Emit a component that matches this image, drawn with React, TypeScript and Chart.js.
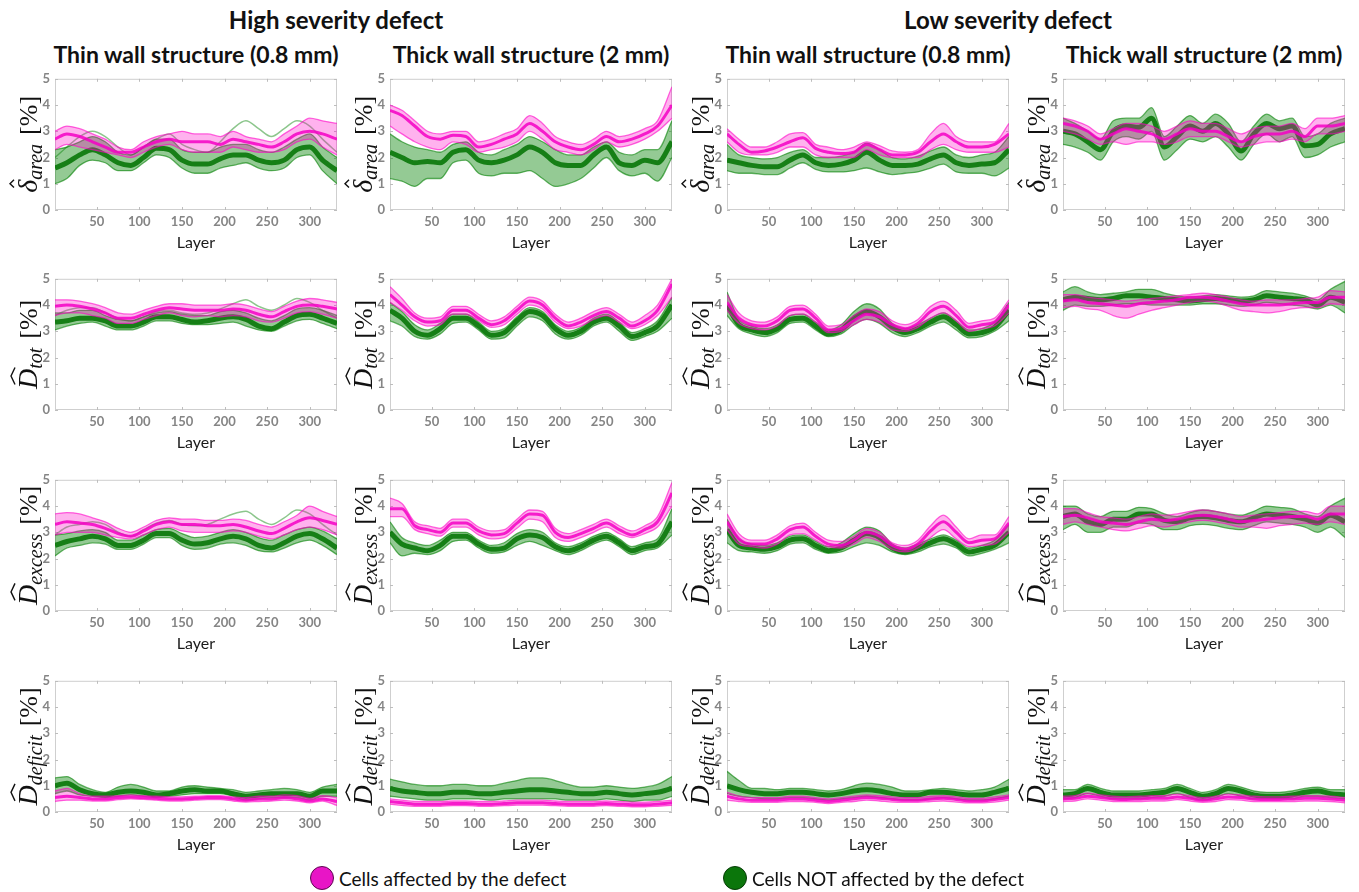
import React, { useEffect, useRef } from "react";
import { Chart, registerables } from "chart.js";
Chart.register(...registerables);

// ---------- shared axes ----------
const LAYERS = [1, 15, 30, 45, 60, 75, 90, 105, 120, 135, 150, 165, 180, 195, 210, 225, 240, 255, 270, 285, 300, 315, 332];
const X_TICKS = [50, 100, 150, 200, 250, 300];
const Y_TICKS = [0, 1, 2, 3, 4, 5];

// ---------- Row 1: delta_area ----------
// High severity, thin wall
const r1c1PinkHi = [3.0, 3.2, 3.1, 2.9, 2.7, 2.4, 2.3, 2.6, 2.8, 2.9, 3.0, 2.9, 2.9, 2.8, 3.0, 2.8, 2.7, 2.6, 2.9, 3.2, 3.5, 3.4, 3.3];
const r1c1PinkMid = [2.7, 2.9, 2.8, 2.6, 2.4, 2.2, 2.2, 2.4, 2.6, 2.7, 2.6, 2.6, 2.6, 2.5, 2.7, 2.6, 2.5, 2.4, 2.6, 2.9, 3.0, 2.9, 2.7];
const r1c1PinkLo = [2.3, 2.5, 2.4, 2.3, 2.2, 2.1, 2.0, 2.2, 2.4, 2.5, 2.3, 2.2, 2.2, 2.2, 2.4, 2.3, 2.2, 2.2, 2.3, 2.6, 2.7, 2.4, 2.1];
const r1c1GreenHi = [2.3, 2.4, 2.6, 2.8, 2.6, 2.2, 2.1, 2.4, 2.7, 2.7, 2.3, 2.2, 2.2, 2.4, 2.5, 2.5, 2.3, 2.2, 2.4, 2.7, 2.9, 2.4, 2.0];
const r1c1GreenMid = [1.6, 1.8, 2.1, 2.3, 2.1, 1.8, 1.7, 2.0, 2.35, 2.3, 1.9, 1.75, 1.75, 1.95, 2.1, 2.1, 1.9, 1.8, 1.9, 2.3, 2.4, 1.9, 1.5];
const r1c1GreenLo = [1.0, 1.2, 1.7, 1.9, 1.8, 1.5, 1.5, 1.8, 2.1, 2.0, 1.6, 1.4, 1.4, 1.6, 1.7, 1.8, 1.6, 1.5, 1.6, 2.0, 2.1, 1.5, 1.0];
const r1c1GreenOut = [2.0, 2.4, 2.8, 3.0, 2.8, 2.4, 2.1, 2.4, 2.7, 2.9, 2.5, 2.3, 2.2, 2.6, 3.1, 3.4, 3.1, 2.8, 3.1, 3.4, 3.2, 2.7, 2.2];
// High severity, thick wall
const r1c2PinkHi = [4.0, 3.8, 3.4, 3.0, 2.9, 3.0, 3.0, 2.6, 2.7, 2.9, 3.1, 3.6, 3.3, 2.8, 2.6, 2.5, 2.7, 3.0, 2.8, 2.9, 3.1, 3.4, 4.7];
const r1c2PinkMid = [3.8, 3.6, 3.2, 2.8, 2.7, 2.85, 2.8, 2.4, 2.5, 2.7, 2.9, 3.3, 3.0, 2.6, 2.4, 2.3, 2.5, 2.8, 2.6, 2.7, 2.9, 3.2, 4.0];
const r1c2PinkLo = [3.2, 2.9, 2.6, 2.4, 2.3, 2.6, 2.5, 2.2, 2.3, 2.4, 2.6, 3.0, 2.7, 2.3, 2.2, 2.1, 2.3, 2.6, 2.4, 2.5, 2.7, 3.0, 3.5];
const r1c2GreenHi = [2.9, 2.6, 2.4, 2.3, 2.2, 2.5, 2.6, 2.2, 2.1, 2.3, 2.5, 2.8, 2.6, 2.3, 2.1, 2.1, 2.4, 2.6, 2.2, 2.1, 2.3, 2.3, 3.4];
const r1c2GreenMid = [2.2, 2.0, 1.8, 1.85, 1.8, 2.2, 2.3, 1.9, 1.8, 1.9, 2.1, 2.4, 2.2, 1.8, 1.7, 1.7, 2.1, 2.4, 1.8, 1.7, 1.9, 1.8, 2.6];
const r1c2GreenLo = [1.2, 1.1, 0.9, 1.2, 1.2, 1.8, 1.9, 1.4, 1.3, 1.4, 1.4, 1.5, 1.2, 0.9, 1.0, 1.2, 1.6, 2.0, 1.5, 1.3, 1.4, 1.1, 2.0];
// Low severity, thin wall
const r1c3PinkHi = [3.1, 2.7, 2.4, 2.4, 2.6, 2.9, 2.95, 2.5, 2.4, 2.3, 2.4, 2.6, 2.45, 2.25, 2.2, 2.3, 2.9, 3.3, 2.8, 2.6, 2.6, 2.6, 3.3];
const r1c3PinkMid = [2.9, 2.5, 2.2, 2.25, 2.4, 2.6, 2.75, 2.35, 2.2, 2.15, 2.2, 2.5, 2.3, 2.1, 2.1, 2.2, 2.6, 2.9, 2.6, 2.4, 2.4, 2.5, 2.9];
const r1c3PinkLo = [2.6, 2.2, 2.1, 2.1, 2.2, 2.4, 2.4, 2.1, 2.0, 2.0, 2.0, 2.3, 2.1, 2.0, 2.0, 2.0, 2.3, 2.5, 2.3, 2.2, 2.2, 2.2, 2.4];
const r1c3GreenHi = [2.5, 2.1, 2.0, 1.95, 2.0, 2.2, 2.3, 2.0, 2.0, 2.05, 2.2, 2.55, 2.3, 2.0, 1.95, 2.05, 2.25, 2.4, 2.1, 2.0, 2.1, 2.2, 2.8];
const r1c3GreenMid = [1.9, 1.8, 1.7, 1.65, 1.65, 1.9, 2.1, 1.8, 1.7, 1.75, 1.9, 2.2, 1.9, 1.7, 1.7, 1.75, 1.95, 2.1, 1.8, 1.7, 1.75, 1.8, 2.3];
const r1c3GreenLo = [1.5, 1.4, 1.4, 1.35, 1.35, 1.6, 1.8, 1.55, 1.45, 1.45, 1.5, 1.6, 1.45, 1.35, 1.4, 1.45, 1.6, 1.75, 1.45, 1.4, 1.4, 1.3, 1.6];
// Low severity, thick wall
const r1c4PinkHi = [3.5, 3.4, 3.2, 2.9, 3.1, 3.3, 3.3, 3.2, 3.0, 3.2, 3.4, 3.3, 3.3, 3.1, 2.9, 3.1, 3.2, 3.2, 3.3, 3.1, 3.5, 3.5, 3.6];
const r1c4PinkMid = [3.3, 3.2, 3.0, 2.7, 2.9, 3.1, 3.0, 2.9, 2.7, 2.9, 3.1, 3.0, 3.0, 2.8, 2.6, 2.8, 2.9, 2.9, 3.0, 2.8, 3.2, 3.2, 3.3];
const r1c4PinkLo = [3.0, 2.9, 2.7, 2.5, 2.6, 2.5, 2.6, 2.6, 2.5, 2.6, 2.8, 2.8, 2.8, 2.6, 2.4, 2.5, 2.6, 2.6, 2.7, 2.6, 2.9, 2.9, 3.0];
const r1c4GreenHi = [3.5, 3.3, 3.0, 2.7, 3.4, 3.5, 3.5, 3.9, 2.8, 3.2, 3.6, 3.3, 3.65, 3.3, 2.6, 3.2, 3.65, 3.4, 3.5, 2.8, 2.9, 3.3, 3.5];
const r1c4GreenMid = [3.0, 2.9, 2.6, 2.3, 3.0, 3.2, 3.15, 3.5, 2.4, 2.8, 3.2, 3.0, 3.3, 2.9, 2.25, 2.9, 3.3, 3.1, 3.2, 2.45, 2.5, 2.9, 3.1];
const r1c4GreenLo = [2.5, 2.4, 2.2, 1.9, 2.6, 2.8, 2.7, 3.0, 1.9, 2.3, 2.7, 2.6, 2.8, 2.4, 1.9, 2.5, 2.9, 2.6, 2.8, 2.0, 2.1, 2.4, 2.6];

// ---------- Row 2: D_tot ----------
const r2c1PinkHi = [4.2, 4.2, 4.15, 4.05, 3.9, 3.7, 3.65, 3.8, 3.95, 4.05, 4.05, 4.0, 4.0, 4.0, 4.05, 4.0, 3.85, 3.75, 3.95, 4.15, 4.25, 4.2, 4.1];
const r2c1PinkMid = [3.95, 4.0, 3.95, 3.85, 3.7, 3.5, 3.5, 3.65, 3.8, 3.9, 3.85, 3.8, 3.8, 3.8, 3.85, 3.8, 3.65, 3.55, 3.75, 3.95, 4.0, 3.95, 3.85];
const r2c1PinkLo = [3.6, 3.7, 3.7, 3.6, 3.5, 3.3, 3.3, 3.45, 3.6, 3.7, 3.6, 3.55, 3.6, 3.55, 3.6, 3.55, 3.4, 3.35, 3.5, 3.7, 3.75, 3.65, 3.5];
const r2c1GreenHi = [3.7, 3.7, 3.8, 3.8, 3.6, 3.45, 3.4, 3.55, 3.7, 3.75, 3.65, 3.6, 3.6, 3.75, 3.8, 3.7, 3.5, 3.4, 3.6, 3.85, 3.9, 3.8, 3.6];
const r2c1GreenMid = [3.35, 3.4, 3.5, 3.5, 3.4, 3.2, 3.2, 3.35, 3.55, 3.55, 3.45, 3.35, 3.4, 3.5, 3.55, 3.45, 3.2, 3.1, 3.35, 3.6, 3.65, 3.5, 3.3];
const r2c1GreenLo = [3.05, 3.2, 3.3, 3.35, 3.2, 3.05, 3.05, 3.2, 3.4, 3.4, 3.3, 3.25, 3.25, 3.3, 3.35, 3.2, 3.05, 3.0, 3.2, 3.4, 3.45, 3.3, 3.1];
const r2c1GreenOut = [3.6, 3.8, 3.9, 3.9, 3.7, 3.5, 3.4, 3.55, 3.75, 3.8, 3.7, 3.65, 3.7, 3.85, 4.05, 4.2, 3.95, 3.8, 4.0, 4.25, 4.1, 3.8, 3.5];
const r2c2PinkHi = [4.7, 4.25, 3.7, 3.5, 3.55, 3.95, 3.95, 3.65, 3.4, 3.55, 3.95, 4.3, 4.15, 3.65, 3.35, 3.5, 3.75, 3.9, 3.65, 3.35, 3.6, 4.0, 5.0];
const r2c2PinkMid = [4.4, 4.0, 3.55, 3.35, 3.4, 3.8, 3.8, 3.5, 3.25, 3.4, 3.8, 4.15, 4.0, 3.5, 3.2, 3.35, 3.6, 3.75, 3.5, 3.2, 3.4, 3.8, 4.8];
const r2c2PinkLo = [4.1, 3.8, 3.4, 3.2, 3.25, 3.65, 3.65, 3.4, 3.15, 3.25, 3.65, 4.0, 3.85, 3.35, 3.1, 3.2, 3.45, 3.6, 3.35, 3.1, 3.25, 3.6, 4.3];
const r2c2GreenHi = [4.1, 3.75, 3.25, 3.05, 3.3, 3.65, 3.65, 3.35, 3.0, 3.1, 3.55, 3.9, 3.75, 3.25, 3.0, 3.15, 3.5, 3.65, 3.35, 2.95, 3.1, 3.4, 4.3];
const r2c2GreenMid = [3.8, 3.5, 3.0, 2.85, 3.1, 3.5, 3.5, 3.2, 2.85, 2.95, 3.4, 3.75, 3.6, 3.1, 2.85, 3.0, 3.35, 3.5, 3.2, 2.8, 2.95, 3.2, 4.0];
const r2c2GreenLo = [3.4, 3.2, 2.8, 2.7, 2.9, 3.3, 3.35, 3.05, 2.7, 2.75, 3.2, 3.55, 3.4, 2.9, 2.7, 2.85, 3.2, 3.35, 3.0, 2.65, 2.8, 3.0, 3.5];
const r2c3PinkHi = [4.4, 3.7, 3.4, 3.35, 3.55, 3.95, 4.0, 3.65, 3.2, 3.25, 3.6, 3.85, 3.75, 3.4, 3.25, 3.45, 3.95, 4.15, 3.8, 3.3, 3.4, 3.5, 4.2];
const r2c3PinkMid = [4.1, 3.5, 3.25, 3.2, 3.4, 3.8, 3.85, 3.5, 3.05, 3.1, 3.4, 3.65, 3.55, 3.25, 3.1, 3.3, 3.75, 3.95, 3.6, 3.15, 3.25, 3.35, 4.0];
const r2c3PinkLo = [3.8, 3.3, 3.1, 3.05, 3.2, 3.6, 3.65, 3.35, 2.95, 3.0, 3.25, 3.45, 3.35, 3.05, 3.0, 3.15, 3.5, 3.7, 3.4, 3.0, 3.1, 3.2, 3.7];
const r2c3GreenHi = [4.5, 3.45, 3.2, 3.1, 3.25, 3.6, 3.65, 3.35, 3.05, 3.25, 3.75, 4.05, 3.85, 3.3, 3.1, 3.25, 3.5, 3.7, 3.4, 3.05, 3.1, 3.35, 4.1];
const r2c3GreenMid = [4.0, 3.25, 3.05, 2.95, 3.1, 3.45, 3.5, 3.2, 2.9, 3.05, 3.5, 3.75, 3.55, 3.15, 2.95, 3.1, 3.35, 3.55, 3.25, 2.9, 2.95, 3.15, 3.8];
const r2c3GreenLo = [3.6, 3.1, 2.9, 2.8, 2.95, 3.3, 3.35, 3.05, 2.8, 2.9, 3.25, 3.45, 3.3, 2.95, 2.8, 2.95, 3.2, 3.35, 3.05, 2.75, 2.8, 3.0, 3.4];
const r2c4PinkHi = [4.4, 4.4, 4.3, 4.25, 4.2, 4.15, 4.2, 4.25, 4.3, 4.35, 4.4, 4.45, 4.4, 4.3, 4.2, 4.15, 4.2, 4.2, 4.2, 4.25, 4.3, 4.55, 4.5];
const r2c4PinkMid = [4.15, 4.2, 4.1, 4.05, 4.0, 3.95, 4.05, 4.1, 4.15, 4.2, 4.3, 4.3, 4.25, 4.15, 4.05, 4.0, 4.0, 4.0, 4.05, 4.1, 4.1, 4.3, 4.3];
const r2c4PinkLo = [3.9, 3.95, 3.85, 3.8, 3.6, 3.5, 3.65, 3.8, 3.9, 4.0, 4.1, 4.15, 4.1, 3.95, 3.8, 3.75, 3.7, 3.75, 3.85, 3.9, 3.9, 4.05, 4.0];
const r2c4GreenHi = [4.5, 4.7, 4.5, 4.4, 4.45, 4.5, 4.6, 4.6, 4.45, 4.35, 4.3, 4.35, 4.4, 4.35, 4.3, 4.35, 4.55, 4.5, 4.45, 4.35, 4.2, 4.6, 4.9];
const r2c4GreenMid = [4.2, 4.3, 4.25, 4.2, 4.25, 4.35, 4.35, 4.3, 4.25, 4.2, 4.15, 4.2, 4.25, 4.2, 4.15, 4.2, 4.35, 4.3, 4.25, 4.2, 4.0, 4.3, 4.1];
const r2c4GreenLo = [3.8, 4.0, 3.95, 3.95, 4.0, 4.05, 4.05, 4.0, 4.0, 4.0, 4.0, 4.05, 4.05, 4.0, 3.95, 4.0, 4.1, 4.05, 4.0, 3.95, 3.85, 4.0, 3.7];

// ---------- Row 3: D_excess ----------
const r3c1PinkHi = [3.7, 3.75, 3.7, 3.55, 3.4, 3.15, 3.0, 3.2, 3.45, 3.55, 3.5, 3.5, 3.45, 3.45, 3.5, 3.45, 3.3, 3.2, 3.4, 3.65, 4.0, 3.8, 3.6];
const r3c1PinkMid = [3.3, 3.4, 3.35, 3.3, 3.15, 2.95, 2.85, 3.05, 3.3, 3.4, 3.3, 3.3, 3.25, 3.25, 3.3, 3.2, 3.05, 2.95, 3.15, 3.4, 3.55, 3.45, 3.3];
const r3c1PinkLo = [2.9, 3.0, 3.0, 3.0, 2.9, 2.8, 2.75, 2.9, 3.1, 3.2, 3.05, 3.0, 3.0, 3.0, 3.05, 3.0, 2.85, 2.75, 2.9, 3.1, 3.2, 3.1, 2.9];
const r3c1GreenHi = [2.9, 2.95, 3.05, 3.1, 3.0, 2.7, 2.7, 2.9, 3.1, 3.15, 2.95, 2.8, 2.85, 3.0, 3.1, 3.0, 2.8, 2.7, 2.9, 3.1, 3.2, 3.05, 2.75];
const r3c1GreenMid = [2.5, 2.65, 2.75, 2.85, 2.75, 2.5, 2.5, 2.7, 2.95, 2.95, 2.7, 2.55, 2.6, 2.75, 2.85, 2.75, 2.5, 2.4, 2.6, 2.85, 2.95, 2.75, 2.4];
const r3c1GreenLo = [2.1, 2.4, 2.5, 2.6, 2.55, 2.35, 2.35, 2.55, 2.8, 2.8, 2.5, 2.35, 2.4, 2.55, 2.6, 2.5, 2.3, 2.25, 2.4, 2.6, 2.7, 2.5, 2.15];
const r3c1GreenOut = [2.9, 3.2, 3.3, 3.4, 3.3, 3.0, 2.85, 3.1, 3.35, 3.45, 3.3, 3.25, 3.3, 3.5, 3.7, 3.8, 3.5, 3.3, 3.55, 3.85, 3.7, 3.3, 2.9];
const r3c2PinkHi = [4.3, 4.1, 3.4, 3.25, 3.15, 3.5, 3.5, 3.2, 3.05, 3.1, 3.5, 3.85, 3.8, 3.15, 2.95, 3.1, 3.3, 3.5, 3.25, 3.05, 3.25, 3.6, 4.9];
const r3c2PinkMid = [3.9, 3.9, 3.25, 3.1, 3.0, 3.35, 3.35, 3.05, 2.9, 2.95, 3.35, 3.7, 3.65, 3.0, 2.8, 2.95, 3.15, 3.35, 3.1, 2.9, 3.1, 3.4, 4.5];
const r3c2PinkLo = [3.6, 3.6, 3.1, 2.95, 2.85, 3.2, 3.2, 2.9, 2.75, 2.8, 3.15, 3.5, 3.4, 2.8, 2.65, 2.8, 3.0, 3.2, 2.95, 2.8, 2.95, 3.2, 4.0];
const r3c2GreenHi = [3.4, 2.8, 2.6, 2.5, 2.7, 3.0, 3.0, 2.7, 2.5, 2.6, 2.95, 3.1, 3.0, 2.6, 2.45, 2.6, 2.85, 3.0, 2.75, 2.45, 2.6, 2.75, 3.9];
const r3c2GreenMid = [3.0, 2.55, 2.4, 2.3, 2.5, 2.85, 2.85, 2.55, 2.35, 2.4, 2.75, 2.9, 2.8, 2.45, 2.3, 2.45, 2.7, 2.85, 2.6, 2.3, 2.45, 2.55, 3.4];
const r3c2GreenLo = [2.6, 2.1, 2.2, 2.15, 2.3, 2.65, 2.7, 2.4, 2.2, 2.25, 2.5, 2.65, 2.5, 2.3, 2.15, 2.3, 2.55, 2.7, 2.45, 2.15, 2.3, 2.4, 2.9];
const r3c3PinkHi = [3.7, 2.95, 2.7, 2.7, 2.9, 3.25, 3.35, 3.0, 2.7, 2.65, 2.85, 3.15, 3.0, 2.6, 2.5, 2.7, 3.25, 3.65, 3.2, 2.75, 2.9, 2.9, 3.6];
const r3c3PinkMid = [3.4, 2.75, 2.55, 2.55, 2.75, 3.1, 3.2, 2.85, 2.55, 2.5, 2.7, 3.0, 2.85, 2.5, 2.35, 2.55, 3.05, 3.4, 3.0, 2.6, 2.7, 2.75, 3.35];
const r3c3PinkLo = [3.1, 2.55, 2.45, 2.4, 2.55, 2.9, 2.95, 2.7, 2.45, 2.4, 2.55, 2.8, 2.65, 2.35, 2.25, 2.4, 2.8, 3.1, 2.75, 2.45, 2.5, 2.55, 3.0];
const r3c3GreenHi = [3.5, 2.75, 2.55, 2.5, 2.6, 2.85, 2.9, 2.65, 2.45, 2.6, 2.95, 3.2, 3.05, 2.55, 2.4, 2.55, 2.75, 2.9, 2.7, 2.4, 2.5, 2.7, 3.3];
const r3c3GreenMid = [3.1, 2.5, 2.4, 2.35, 2.45, 2.7, 2.75, 2.5, 2.3, 2.4, 2.7, 2.95, 2.8, 2.4, 2.25, 2.4, 2.6, 2.75, 2.55, 2.25, 2.35, 2.5, 3.0];
const r3c3GreenLo = [2.6, 2.3, 2.25, 2.2, 2.3, 2.55, 2.6, 2.35, 2.2, 2.25, 2.45, 2.6, 2.5, 2.25, 2.15, 2.25, 2.45, 2.55, 2.4, 2.1, 2.2, 2.35, 2.6];
const r3c4PinkHi = [3.9, 3.9, 3.75, 3.6, 3.55, 3.5, 3.6, 3.7, 3.65, 3.7, 3.8, 3.85, 3.8, 3.7, 3.6, 3.65, 3.7, 3.75, 3.8, 3.8, 3.7, 4.0, 4.0];
const r3c4PinkMid = [3.6, 3.65, 3.55, 3.4, 3.35, 3.3, 3.4, 3.5, 3.45, 3.5, 3.6, 3.65, 3.6, 3.5, 3.4, 3.45, 3.5, 3.55, 3.6, 3.6, 3.5, 3.7, 3.7];
const r3c4PinkLo = [3.3, 3.4, 3.3, 3.2, 3.1, 3.05, 3.15, 3.25, 3.2, 3.3, 3.4, 3.45, 3.4, 3.3, 3.2, 3.2, 3.15, 3.25, 3.3, 3.35, 3.3, 3.4, 3.3];
const r3c4GreenHi = [4.0, 4.0, 3.7, 3.6, 3.8, 3.8, 3.95, 3.9, 3.7, 3.6, 3.75, 3.85, 3.8, 3.7, 3.65, 3.8, 4.0, 3.95, 3.9, 3.7, 3.6, 4.0, 4.3];
const r3c4GreenMid = [3.6, 3.7, 3.4, 3.3, 3.5, 3.5, 3.7, 3.7, 3.45, 3.4, 3.55, 3.6, 3.55, 3.45, 3.4, 3.55, 3.7, 3.65, 3.6, 3.5, 3.35, 3.65, 3.4];
const r3c4GreenLo = [3.1, 3.3, 3.0, 3.0, 3.2, 3.2, 3.35, 3.3, 3.1, 3.1, 3.25, 3.3, 3.25, 3.15, 3.1, 3.25, 3.4, 3.35, 3.3, 3.2, 3.0, 3.2, 2.8];

// ---------- Row 4: D_deficit ----------
const r4c1PinkHi = [0.8, 0.9, 0.7, 0.6, 0.6, 0.62, 0.65, 0.62, 0.6, 0.58, 0.58, 0.6, 0.62, 0.62, 0.58, 0.55, 0.6, 0.6, 0.65, 0.62, 0.52, 0.62, 0.55];
const r4c1PinkMid = [0.55, 0.6, 0.55, 0.5, 0.5, 0.55, 0.57, 0.55, 0.52, 0.5, 0.5, 0.52, 0.55, 0.55, 0.5, 0.45, 0.5, 0.5, 0.55, 0.5, 0.42, 0.5, 0.4];
const r4c1PinkLo = [0.4, 0.45, 0.45, 0.42, 0.42, 0.47, 0.5, 0.48, 0.45, 0.42, 0.42, 0.45, 0.47, 0.47, 0.42, 0.38, 0.4, 0.42, 0.45, 0.42, 0.35, 0.42, 0.25];
const r4c1GreenHi = [1.3, 1.35, 1.05, 0.85, 0.75, 0.95, 1.05, 0.95, 0.8, 0.8, 0.95, 1.0, 0.95, 0.9, 0.85, 0.75, 0.8, 0.85, 0.9, 0.85, 0.75, 0.95, 1.05];
const r4c1GreenMid = [1.0, 1.1, 0.85, 0.7, 0.65, 0.75, 0.8, 0.75, 0.65, 0.7, 0.8, 0.85, 0.8, 0.8, 0.7, 0.6, 0.65, 0.7, 0.7, 0.7, 0.6, 0.8, 0.8];
const r4c1GreenLo = [0.7, 0.8, 0.65, 0.6, 0.55, 0.6, 0.65, 0.6, 0.55, 0.6, 0.65, 0.7, 0.7, 0.7, 0.6, 0.45, 0.5, 0.55, 0.55, 0.55, 0.45, 0.6, 0.6];
const r4c2PinkHi = [0.5, 0.45, 0.4, 0.4, 0.4, 0.42, 0.42, 0.4, 0.4, 0.42, 0.45, 0.45, 0.45, 0.42, 0.4, 0.4, 0.4, 0.42, 0.4, 0.38, 0.38, 0.4, 0.45];
const r4c2PinkMid = [0.4, 0.35, 0.3, 0.3, 0.3, 0.32, 0.32, 0.3, 0.3, 0.32, 0.35, 0.35, 0.35, 0.32, 0.3, 0.3, 0.3, 0.32, 0.3, 0.28, 0.28, 0.3, 0.35];
const r4c2PinkLo = [0.3, 0.25, 0.22, 0.22, 0.22, 0.24, 0.24, 0.22, 0.22, 0.24, 0.26, 0.26, 0.26, 0.24, 0.22, 0.22, 0.22, 0.24, 0.22, 0.2, 0.2, 0.22, 0.25];
const r4c2GreenHi = [1.25, 1.15, 1.05, 1.0, 1.0, 1.05, 1.05, 1.0, 1.0, 1.1, 1.2, 1.3, 1.3, 1.2, 1.05, 0.95, 0.95, 1.0, 0.95, 0.9, 0.95, 1.05, 1.35];
const r4c2GreenMid = [0.9, 0.8, 0.75, 0.7, 0.7, 0.75, 0.75, 0.7, 0.7, 0.75, 0.8, 0.85, 0.85, 0.8, 0.75, 0.7, 0.7, 0.75, 0.7, 0.65, 0.7, 0.75, 0.9];
const r4c2GreenLo = [0.6, 0.55, 0.5, 0.45, 0.45, 0.5, 0.5, 0.5, 0.45, 0.5, 0.5, 0.5, 0.5, 0.5, 0.45, 0.45, 0.45, 0.5, 0.45, 0.4, 0.45, 0.45, 0.6];
const r4c3PinkHi = [0.75, 0.6, 0.55, 0.55, 0.55, 0.6, 0.6, 0.55, 0.5, 0.55, 0.6, 0.65, 0.62, 0.58, 0.55, 0.55, 0.6, 0.62, 0.58, 0.52, 0.52, 0.58, 0.65];
const r4c3PinkMid = [0.6, 0.5, 0.45, 0.45, 0.45, 0.5, 0.5, 0.45, 0.4, 0.45, 0.5, 0.55, 0.52, 0.48, 0.45, 0.45, 0.5, 0.52, 0.48, 0.42, 0.42, 0.48, 0.55];
const r4c3PinkLo = [0.45, 0.4, 0.37, 0.37, 0.37, 0.4, 0.4, 0.37, 0.32, 0.37, 0.4, 0.45, 0.42, 0.38, 0.37, 0.37, 0.4, 0.42, 0.38, 0.35, 0.35, 0.38, 0.45];
const r4c3GreenHi = [1.55, 1.2, 0.9, 0.9, 0.85, 0.9, 0.9, 0.85, 0.8, 0.85, 1.0, 1.1, 1.05, 0.95, 0.8, 0.8, 0.85, 0.9, 0.85, 0.8, 0.85, 0.95, 1.25];
const r4c3GreenMid = [1.0, 0.85, 0.75, 0.7, 0.7, 0.75, 0.75, 0.7, 0.65, 0.7, 0.8, 0.85, 0.8, 0.7, 0.65, 0.65, 0.75, 0.75, 0.7, 0.65, 0.65, 0.75, 0.9];
const r4c3GreenLo = [0.7, 0.6, 0.55, 0.5, 0.5, 0.55, 0.55, 0.5, 0.45, 0.5, 0.55, 0.6, 0.55, 0.5, 0.45, 0.45, 0.5, 0.55, 0.5, 0.45, 0.45, 0.5, 0.6];
const r4c4PinkHi = [0.6, 0.62, 0.72, 0.65, 0.6, 0.58, 0.6, 0.62, 0.62, 0.68, 0.62, 0.55, 0.6, 0.68, 0.65, 0.6, 0.58, 0.58, 0.6, 0.62, 0.62, 0.6, 0.55];
const r4c4PinkMid = [0.5, 0.52, 0.6, 0.55, 0.5, 0.48, 0.5, 0.52, 0.52, 0.57, 0.52, 0.45, 0.5, 0.57, 0.55, 0.5, 0.48, 0.48, 0.5, 0.52, 0.52, 0.5, 0.45];
const r4c4PinkLo = [0.4, 0.42, 0.5, 0.45, 0.4, 0.4, 0.4, 0.42, 0.42, 0.47, 0.42, 0.37, 0.4, 0.47, 0.45, 0.4, 0.4, 0.4, 0.4, 0.42, 0.42, 0.4, 0.35];
const r4c4GreenHi = [0.85, 0.85, 1.05, 0.9, 0.8, 0.8, 0.8, 0.85, 0.9, 1.05, 0.9, 0.75, 0.85, 1.05, 0.95, 0.8, 0.75, 0.75, 0.8, 0.9, 0.95, 0.85, 0.85];
const r4c4GreenMid = [0.65, 0.7, 0.9, 0.75, 0.65, 0.65, 0.65, 0.7, 0.75, 0.9, 0.75, 0.6, 0.7, 0.9, 0.8, 0.65, 0.6, 0.6, 0.65, 0.75, 0.8, 0.7, 0.65];
const r4c4GreenLo = [0.5, 0.55, 0.7, 0.6, 0.5, 0.5, 0.5, 0.55, 0.6, 0.7, 0.55, 0.45, 0.55, 0.7, 0.6, 0.5, 0.5, 0.5, 0.5, 0.6, 0.6, 0.55, 0.5];

// ---------- text ----------
const GROUP_TITLES = ["High severity defect", "Low severity defect"];
const COLUMN_TITLES = ["Thin wall structure (0.8 mm)", "Thick wall structure (2 mm)", "Thin wall structure (0.8 mm)", "Thick wall structure (2 mm)"];
const ROW_LABELS = [
  { base: "δ", sub: "area" },
  { base: "D", sub: "tot" },
  { base: "D", sub: "excess" },
  { base: "D", sub: "deficit" },
];
const X_TITLE = "Layer";
const LEGEND_LABELS = ["Cells affected by the defect", "Cells NOT affected by the defect"];

type Band = { hi: number[]; mid: number[]; lo: number[]; out?: number[] };
const PANELS: { pink: Band; green: Band }[][] = [
  [
    { pink: { hi: r1c1PinkHi, mid: r1c1PinkMid, lo: r1c1PinkLo }, green: { hi: r1c1GreenHi, mid: r1c1GreenMid, lo: r1c1GreenLo, out: r1c1GreenOut } },
    { pink: { hi: r1c2PinkHi, mid: r1c2PinkMid, lo: r1c2PinkLo }, green: { hi: r1c2GreenHi, mid: r1c2GreenMid, lo: r1c2GreenLo } },
    { pink: { hi: r1c3PinkHi, mid: r1c3PinkMid, lo: r1c3PinkLo }, green: { hi: r1c3GreenHi, mid: r1c3GreenMid, lo: r1c3GreenLo } },
    { pink: { hi: r1c4PinkHi, mid: r1c4PinkMid, lo: r1c4PinkLo }, green: { hi: r1c4GreenHi, mid: r1c4GreenMid, lo: r1c4GreenLo } },
  ],
  [
    { pink: { hi: r2c1PinkHi, mid: r2c1PinkMid, lo: r2c1PinkLo }, green: { hi: r2c1GreenHi, mid: r2c1GreenMid, lo: r2c1GreenLo, out: r2c1GreenOut } },
    { pink: { hi: r2c2PinkHi, mid: r2c2PinkMid, lo: r2c2PinkLo }, green: { hi: r2c2GreenHi, mid: r2c2GreenMid, lo: r2c2GreenLo } },
    { pink: { hi: r2c3PinkHi, mid: r2c3PinkMid, lo: r2c3PinkLo }, green: { hi: r2c3GreenHi, mid: r2c3GreenMid, lo: r2c3GreenLo } },
    { pink: { hi: r2c4PinkHi, mid: r2c4PinkMid, lo: r2c4PinkLo }, green: { hi: r2c4GreenHi, mid: r2c4GreenMid, lo: r2c4GreenLo } },
  ],
  [
    { pink: { hi: r3c1PinkHi, mid: r3c1PinkMid, lo: r3c1PinkLo }, green: { hi: r3c1GreenHi, mid: r3c1GreenMid, lo: r3c1GreenLo, out: r3c1GreenOut } },
    { pink: { hi: r3c2PinkHi, mid: r3c2PinkMid, lo: r3c2PinkLo }, green: { hi: r3c2GreenHi, mid: r3c2GreenMid, lo: r3c2GreenLo } },
    { pink: { hi: r3c3PinkHi, mid: r3c3PinkMid, lo: r3c3PinkLo }, green: { hi: r3c3GreenHi, mid: r3c3GreenMid, lo: r3c3GreenLo } },
    { pink: { hi: r3c4PinkHi, mid: r3c4PinkMid, lo: r3c4PinkLo }, green: { hi: r3c4GreenHi, mid: r3c4GreenMid, lo: r3c4GreenLo } },
  ],
  [
    { pink: { hi: r4c1PinkHi, mid: r4c1PinkMid, lo: r4c1PinkLo }, green: { hi: r4c1GreenHi, mid: r4c1GreenMid, lo: r4c1GreenLo } },
    { pink: { hi: r4c2PinkHi, mid: r4c2PinkMid, lo: r4c2PinkLo }, green: { hi: r4c2GreenHi, mid: r4c2GreenMid, lo: r4c2GreenLo } },
    { pink: { hi: r4c3PinkHi, mid: r4c3PinkMid, lo: r4c3PinkLo }, green: { hi: r4c3GreenHi, mid: r4c3GreenMid, lo: r4c3GreenLo } },
    { pink: { hi: r4c4PinkHi, mid: r4c4PinkMid, lo: r4c4PinkLo }, green: { hi: r4c4GreenHi, mid: r4c4GreenMid, lo: r4c4GreenLo } },
  ],
];

// ---------- layout (pixels) ----------
const COL_LEFT = [55, 390, 727, 1063];
const ROW_TOP = [76, 276, 477, 678];
const PLOT_W = 282;
const PLOT_H = 134;
const Y_AXIS_W = 55;
const X_AXIS_H = 42;
const PAD_TOP = 10;
const PAD_RIGHT = 8;
const CANVAS_W = Y_AXIS_W + PLOT_W + PAD_RIGHT;
const CANVAS_H = PAD_TOP + PLOT_H + X_AXIS_H;

const PINK = "255, 0, 200";
const GREEN = "0, 128, 0";
const UI_FONT = "Lato, 'Open Sans', sans-serif";

const toPts = (arr: number[]) => arr.map((v, i) => ({ x: LAYERS[i], y: v }));

function bandDatasets(b: Band, rgb: string, midRgb: string, midW: number, fillA: number, edgeA: number) {
  const ds: any[] = [
    { data: toPts(b.lo), borderColor: `rgba(${rgb},${edgeA})`, borderWidth: 1.3, fill: false },
    { data: toPts(b.hi), borderColor: `rgba(${rgb},${edgeA})`, borderWidth: 1.3, fill: "-1", backgroundColor: `rgba(${rgb},${fillA})` },
    { data: toPts(b.mid), borderColor: `rgba(${midRgb},0.85)`, borderWidth: midW, fill: false },
  ];
  if (b.out) ds.push({ data: toPts(b.out), borderColor: `rgba(${rgb},0.45)`, borderWidth: 1.5, fill: false });
  return ds;
}

const boxPlugin = {
  id: "matlabBox",
  beforeDatasetsDraw(chart: any) {
    const { ctx, chartArea: a, scales } = chart;
    ctx.save();
    ctx.strokeStyle = "#cfcfcf";
    ctx.lineWidth = 1;
    ctx.strokeRect(a.left + 0.5, a.top + 0.5, a.right - a.left - 1, a.bottom - a.top - 1);
    ctx.strokeStyle = "#bdbdbd";
    ctx.beginPath();
    for (const v of X_TICKS) {
      const x = Math.round(scales.x.getPixelForValue(v)) + 0.5;
      ctx.moveTo(x, a.bottom); ctx.lineTo(x, a.bottom - 3);
      ctx.moveTo(x, a.top); ctx.lineTo(x, a.top + 3);
    }
    for (const v of Y_TICKS) {
      const y = Math.round(scales.y.getPixelForValue(v)) + 0.5;
      ctx.moveTo(a.left, y); ctx.lineTo(a.left + 3, y);
      ctx.moveTo(a.right, y); ctx.lineTo(a.right - 3, y);
    }
    ctx.stroke();
    ctx.restore();
  },
};

const yLabelPlugin = {
  id: "mathYLabel",
  afterDraw(chart: any, _args: any, opts: any) {
    const { ctx, chartArea: a } = chart;
    const base: string = opts.base;
    const sub: string = opts.sub;
    ctx.save();
    ctx.translate(a.left - 29, (a.top + a.bottom) / 2);
    ctx.rotate(-Math.PI / 2);
    const fBase = "italic 28px 'Liberation Serif', serif";
    const fSub = "italic 20px 'Liberation Serif', serif";
    const fPct = "26px 'Liberation Serif', serif";
    ctx.font = fBase; const wB = ctx.measureText(base).width;
    ctx.font = fSub; const wS = ctx.measureText(sub).width;
    ctx.font = fPct; const wP = ctx.measureText("[%]").width;
    const gap = 9;
    const total = wB + wS + gap + wP;
    let x = -total / 2;
    const bl = 11;
    ctx.fillStyle = "#111";
    ctx.strokeStyle = "#111";
    ctx.textBaseline = "alphabetic";
    ctx.font = fBase;
    ctx.fillText(base, x, bl);
    const capH = base === "D" ? 19 : 20;
    const hw = base === "D" ? wB * 0.42 : wB * 0.3;
    const hx = x + wB * 0.55 + 2;
    ctx.lineWidth = 1.4;
    ctx.beginPath();
    ctx.moveTo(hx - hw, bl - capH - 3);
    ctx.lineTo(hx, bl - capH - 7);
    ctx.lineTo(hx + hw, bl - capH - 3);
    ctx.stroke();
    x += wB;
    ctx.font = fSub;
    ctx.fillText(sub, x, bl + 5);
    x += wS + gap;
    ctx.font = fPct;
    ctx.fillText("[%]", x, bl);
    ctx.restore();
  },
};

function Panel({ row, col }: { row: number; col: number }) {
  const ref = useRef<HTMLCanvasElement | null>(null);
  useEffect(() => {
    const p = PANELS[row][col];
    const datasets = [
      ...bandDatasets(p.pink, PINK, "240, 0, 195", 3, 0.3, 0.6),
      ...bandDatasets(p.green, GREEN, "0, 105, 0", 5, 0.42, 0.6),
    ];
    const tickFont = { family: UI_FONT, size: 13, weight: "bold" as const };
    const chart = new Chart(ref.current as HTMLCanvasElement, {
      type: "line",
      data: { datasets },
      options: {
        responsive: false,
        animation: false,
        devicePixelRatio: 1,
        layout: { padding: { top: PAD_TOP, right: PAD_RIGHT, left: 0, bottom: 0 } },
        elements: { point: { radius: 0 }, line: { tension: 0.4, cubicInterpolationMode: "monotone" } },
        plugins: {
          legend: { display: false },
          tooltip: { enabled: false },
          mathYLabel: ROW_LABELS[row],
        } as any,
        scales: {
          x: {
            type: "linear",
            min: 1,
            max: 332,
            afterBuildTicks: (s: any) => { s.ticks = X_TICKS.map((v) => ({ value: v })); },
            afterFit: (s: any) => { s.height = X_AXIS_H; },
            grid: { display: false, drawTicks: false },
            border: { display: false },
            ticks: { color: "#858585", font: tickFont, padding: 4, maxRotation: 0, autoSkip: false },
            title: { display: true, text: X_TITLE, color: "#1a1a1a", font: { family: UI_FONT, size: 16 }, padding: { top: 0, bottom: 0 } },
          },
          y: {
            min: 0,
            max: 5,
            afterBuildTicks: (s: any) => { s.ticks = Y_TICKS.map((v) => ({ value: v })); },
            afterFit: (s: any) => { s.width = Y_AXIS_W; },
            grid: { display: false, drawTicks: false },
            border: { display: false },
            ticks: { color: "#858585", font: tickFont, padding: 5 },
          },
        },
      } as any,
      plugins: [boxPlugin, yLabelPlugin],
    });
    return () => chart.destroy();
  }, [row, col]);
  return (
    <canvas
      ref={ref}
      width={CANVAS_W}
      height={CANVAS_H}
      style={{ position: "absolute", left: COL_LEFT[col] - Y_AXIS_W, top: ROW_TOP[row] - PAD_TOP, width: CANVAS_W, height: CANVAS_H }}
    />
  );
}

export default function App() {
  const colCenter = (c: number) => COL_LEFT[c] + PLOT_W / 2;
  return (
    <div style={{ position: "absolute", left: 0, top: 0, width: 1359, height: 892, background: "#fff", overflow: "hidden", fontFamily: UI_FONT }}>
      {GROUP_TITLES.map((t, i) => (
        <div key={t} style={{ position: "absolute", left: [336, 1008][i] - 200, top: 5, width: 400, textAlign: "center", fontWeight: 700, fontSize: 24, color: "#111", lineHeight: "30px" }}>{t}</div>
      ))}
      {COLUMN_TITLES.map((t, c) => (
        <div key={c} style={{ position: "absolute", left: colCenter(c) - 200, top: 40, width: 400, textAlign: "center", fontWeight: 700, fontSize: 23, color: "#111", lineHeight: "28px" }}>{t}</div>
      ))}
      {PANELS.map((r, ri) => r.map((_, ci) => <Panel key={`${ri}-${ci}`} row={ri} col={ci} />))}
      {LEGEND_LABELS.map((t, i) => (
        <div key={t} style={{ position: "absolute", left: [310, 723][i], top: 865, height: 26, display: "flex", alignItems: "center", fontSize: 19, color: "#111" }}>
          <span style={{ display: "inline-block", width: 24, height: 24, borderRadius: "50%", background: i === 0 ? "#e815c6" : "#0b760b", border: `1.5px solid ${i === 0 ? "#5c0850" : "#073c07"}`, marginRight: 5, boxSizing: "border-box" }} />
          {t}
        </div>
      ))}
    </div>
  );
}
